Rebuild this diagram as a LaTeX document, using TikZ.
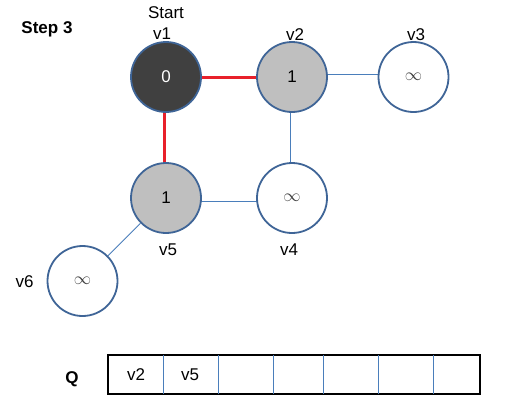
\documentclass[tikz,border=0pt]{standalone}
\usepackage{fontspec}
\setmainfont{Liberation Sans}
\usetikzlibrary{backgrounds}
\definecolor{rimblue}{HTML}{3F6597}
\definecolor{edgeblue}{HTML}{4A7EBB}
\definecolor{darkfill}{HTML}{404040}
\definecolor{grayfill}{HTML}{BFBFBF}
\definecolor{redline}{HTML}{E8202A}
\tikzset{
  vert/.style={circle, draw=rimblue, line width=1.8pt, minimum size=70pt, inner sep=0pt, font=\fontsize{17}{19}\selectfont},
  lbl/.style={anchor=base, inner sep=0pt, font=\fontsize{17}{19}\selectfont},
  inf/.style={font=\fontsize{19}{21}\selectfont, text=black!75},
  tree/.style={draw=redline, line width=3pt},
  plain/.style={draw=edgeblue, line width=0.9pt},
  divider/.style={draw=edgeblue, line width=0.8pt}
}
\begin{document}
\begin{tikzpicture}[x=1pt,y=-1pt]
\useasboundingbox (0,0) rectangle (513,416);
\node[vert, fill=darkfill, text=white] (v1) at (166,77) {0};
\node[vert, fill=grayfill] (v2) at (292,77) {1};
\node[vert, fill=white, inf] (v3) at (413.5,77) {$\infty$};
\node[vert, fill=grayfill] (v5) at (166,198) {1};
\node[vert, fill=white, inf] (v4) at (292,198) {$\infty$};
\node[vert, fill=white, inf] (v6) at (82.5,281) {$\infty$};
\begin{scope}[on background layer]
\draw[tree] (v1) -- (v2);
\draw[tree] ([xshift=-2pt]v1.center) -- ([xshift=-2pt]v5.center);
\draw[plain] ([yshift=3pt]v2.center) -- ([yshift=3pt]v3.center);
\draw[plain] ([xshift=-2pt]v2.center) -- ([xshift=-2pt]v4.center);
\draw[plain] ([yshift=-3pt]v5.center) -- ([yshift=-3pt]v4.center);
\draw[plain] (v5) -- (v6);
\end{scope}
\node[lbl] (tstart) at (166,18) {Start};
\node[lbl] (tv1) at (162,39.5) {v1};
\node[lbl] (tv2) at (295,40) {v2};
\node[lbl] (tv3) at (416,40) {v3};
\node[lbl] (tv5) at (168,255) {v5};
\node[lbl] (tv4) at (289,255) {v4};
\node[lbl] (tv6) at (24.5,287) {v6};
\node[lbl, font=\bfseries\fontsize{17}{19}\selectfont] (step) at (47,33) {Step 3};
\node[lbl, font=\bfseries\fontsize{17}{19}\selectfont] (qlbl) at (72,383) {Q};
\node[draw=black, line width=2pt, minimum width=372pt, minimum height=39pt, inner sep=0pt] (q) at (294,374.5) {};
\foreach \xx in {163,218,273,323,378,433}{
  \draw[divider] (\xx,355) -- (\xx,394);
}
\node[lbl] (q1) at (136,380) {v2};
\node[lbl] (q2) at (190,380) {v5};
\end{tikzpicture}
\end{document}
